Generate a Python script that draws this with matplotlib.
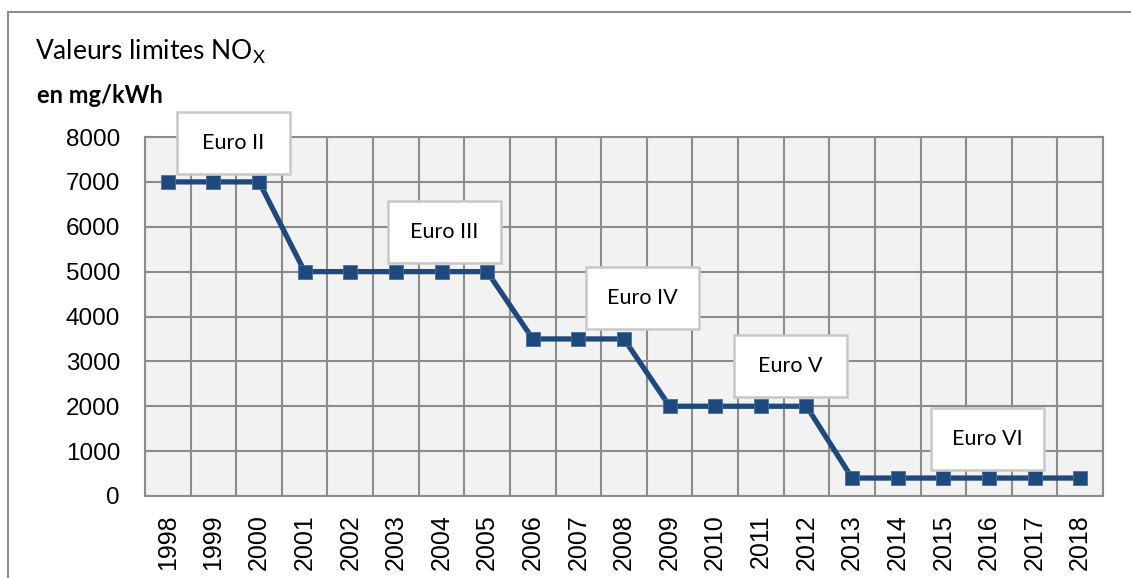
import numpy as np
import matplotlib
matplotlib.use("Agg")
import matplotlib.pyplot as plt
from matplotlib.patches import Rectangle

# NOx limit values per year (mg/kWh)
years = [str(y) for y in range(1998, 2019)]
nox_limits = [7000, 7000, 7000,
              5000, 5000, 5000, 5000, 5000,
              3500, 3500, 3500,
              2000, 2000, 2000, 2000,
              400, 400, 400, 400, 400, 400]

# label boxes for each norm: name, centre (category index, value)
norm_names = ["Euro II", "Euro III", "Euro IV", "Euro V", "Euro VI"]
norm_x = [1.43, 6.06, 10.4, 13.64, 17.96]
norm_y = [7870, 5890, 4420, 2890, 1270]

line_color = "#1f497d"
grid_color = "#8c8c8c"

fig = plt.figure(figsize=(11.31, 5.78), dpi=100)
ax = fig.add_axes([145 / 1131, 1 - 496 / 578, (1103 - 145) / 1131, (496 - 137) / 578])

# outer chart frame
fig.patches.append(Rectangle((8 / 1131, -0.1), 1.2, 1 - 12 / 578 + 0.1,
                             transform=fig.transFigure, fill=False,
                             edgecolor=grid_color, linewidth=1.5))

x = np.arange(len(years))
ax.set_facecolor("#f2f2f2")
ax.plot(x, nox_limits, color=line_color, linewidth=3.8, marker="s",
        markersize=10, markerfacecolor=line_color,
        markeredgecolor="#4a6f9e", markeredgewidth=0.6, zorder=3)

ax.set_xlim(-0.5, len(years) - 0.5)
ax.set_ylim(0, 8000)
ax.set_yticks(np.arange(0, 8001, 1000))
ax.set_xticks(x)
ax.set_xticklabels(years, rotation=90, fontsize=18, family="Liberation Sans")
ax.set_xticks(np.arange(-0.5, len(years), 1), minor=True)
for lab in ax.get_yticklabels():
    lab.set_fontsize(17.5)
    lab.set_family("Liberation Sans")
ax.tick_params(axis="both", which="both", length=0)
ax.tick_params(axis="y", pad=18)
ax.tick_params(axis="x", pad=13)
ax.grid(True, axis="y", which="major", color=grid_color, linewidth=1.5)
ax.grid(True, axis="x", which="minor", color=grid_color, linewidth=1.5)
ax.set_axisbelow(True)
for s in ax.spines.values():
    s.set_color(grid_color)
    s.set_linewidth(1.5)

# norm labels in white boxes
box_w = 113 / 45.62
box_h = 62 / 44.9 * 1000
for name, cx, cy in zip(norm_names, norm_x, norm_y):
    ax.add_patch(Rectangle((cx - box_w / 2, cy - box_h / 2), box_w, box_h,
                           facecolor="white", edgecolor="#c8c8c8",
                           linewidth=1.8, zorder=4, clip_on=False))
    ax.text(cx, cy, name, ha="center", va="center", fontsize=15.5,
            family="Lato", zorder=5)

fig.text(35 / 1131, 1 - 60 / 578, r"Valeurs limites $\mathregular{NO_X}$",
         fontsize=19, family="Lato", va="baseline")
fig.text(37 / 1131, 1 - 103 / 578, "en mg/kWh", fontsize=17,
         family="Lato", weight="bold", va="baseline")

fig.savefig("out.png", dpi=100)
